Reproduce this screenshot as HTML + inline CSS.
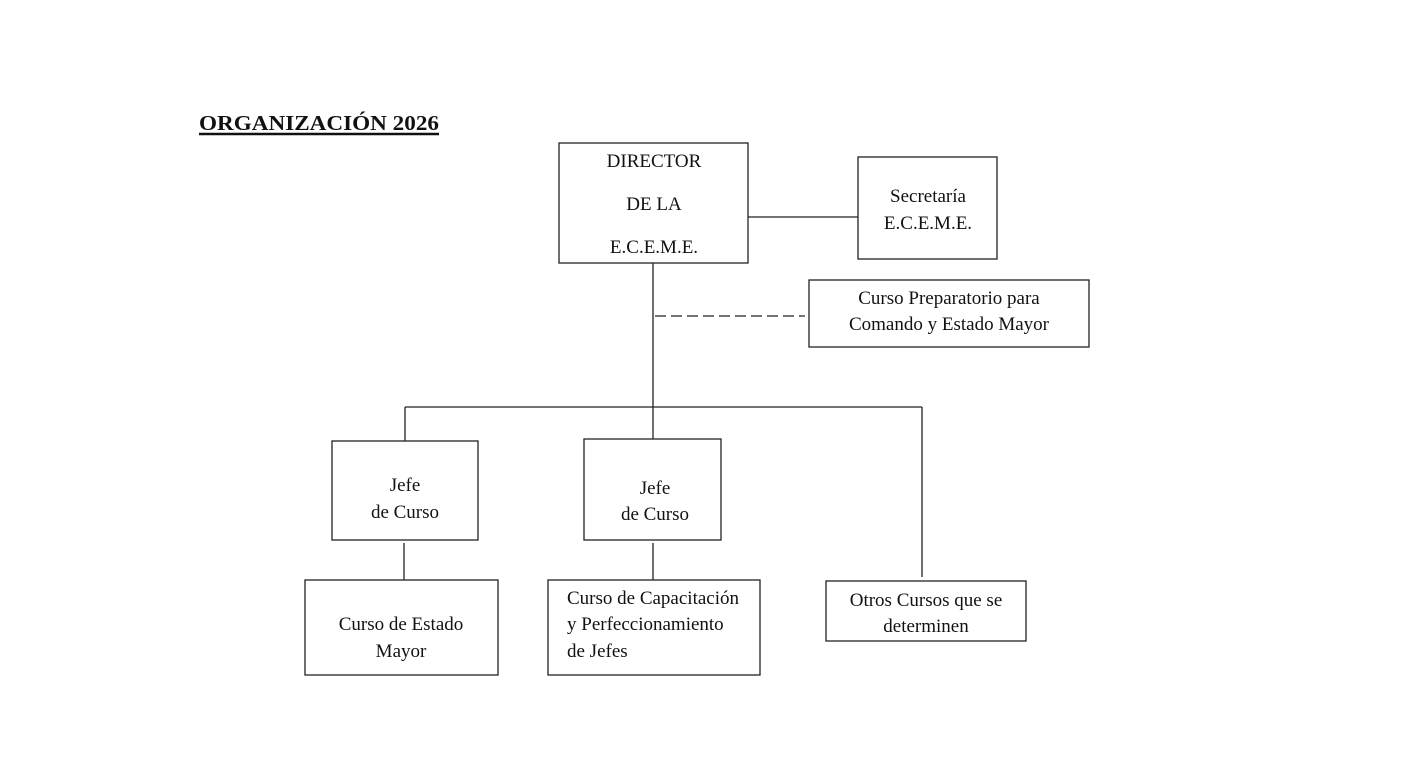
<!DOCTYPE html>
<html><head><meta charset="utf-8"><style>
html,body{margin:0;padding:0;background:#fff;}
svg{display:block;}
text{font-family:"Liberation Serif",serif;font-size:19px;fill:#111;}
</style></head><body>
<svg width="1404" height="763" viewBox="0 0 1404 763" xmlns="http://www.w3.org/2000/svg">
<rect width="1404" height="763" fill="#fff"/>
<text x="199" y="130" style="font-weight:bold;font-size:21px" textLength="240" lengthAdjust="spacingAndGlyphs">ORGANIZACIÓN 2026</text>
<line x1="199" y1="134" x2="439" y2="134" stroke="#111" stroke-width="2.5"/>
<g fill="none" stroke="#222" stroke-width="1.3">
<rect x="559" y="143" width="189" height="120"/>
<rect x="858" y="157" width="139" height="102"/>
<rect x="809" y="280" width="280" height="67"/>
<rect x="332" y="441" width="146" height="99"/>
<rect x="584" y="439" width="137" height="101"/>
<rect x="826" y="581" width="200" height="60"/>
<rect x="305" y="580" width="193" height="95"/>
<rect x="548" y="580" width="212" height="95"/>
<line x1="748" y1="217" x2="858" y2="217"/>
<line x1="653" y1="263" x2="653" y2="439"/>
<line x1="655" y1="316" x2="805" y2="316" stroke-dasharray="11,5"/>
<line x1="405" y1="407" x2="922" y2="407"/>
<line x1="405" y1="407" x2="405" y2="441"/>
<line x1="922" y1="407" x2="922" y2="577"/>
<line x1="404" y1="543" x2="404" y2="580"/>
<line x1="653" y1="543" x2="653" y2="580"/>
</g>
<g text-anchor="middle">
<text x="654" y="167">DIRECTOR</text>
<text x="654" y="210">DE LA</text>
<text x="654" y="253">E.C.E.M.E.</text>
<text x="928" y="202">Secretaría</text>
<text x="928" y="229">E.C.E.M.E.</text>
<text x="949" y="304">Curso Preparatorio para</text>
<text x="949" y="330">Comando y Estado Mayor</text>
<text x="405" y="491">Jefe</text>
<text x="405" y="518">de Curso</text>
<text x="655" y="494">Jefe</text>
<text x="655" y="520">de Curso</text>
<text x="926" y="606">Otros Cursos que se</text>
<text x="926" y="632">determinen</text>
<text x="401" y="630">Curso de Estado</text>
<text x="401" y="657">Mayor</text>
</g>
<text x="567" y="604">Curso de Capacitación</text>
<text x="567" y="630">y Perfeccionamiento</text>
<text x="567" y="657">de Jefes</text>
</svg>
</body></html>
